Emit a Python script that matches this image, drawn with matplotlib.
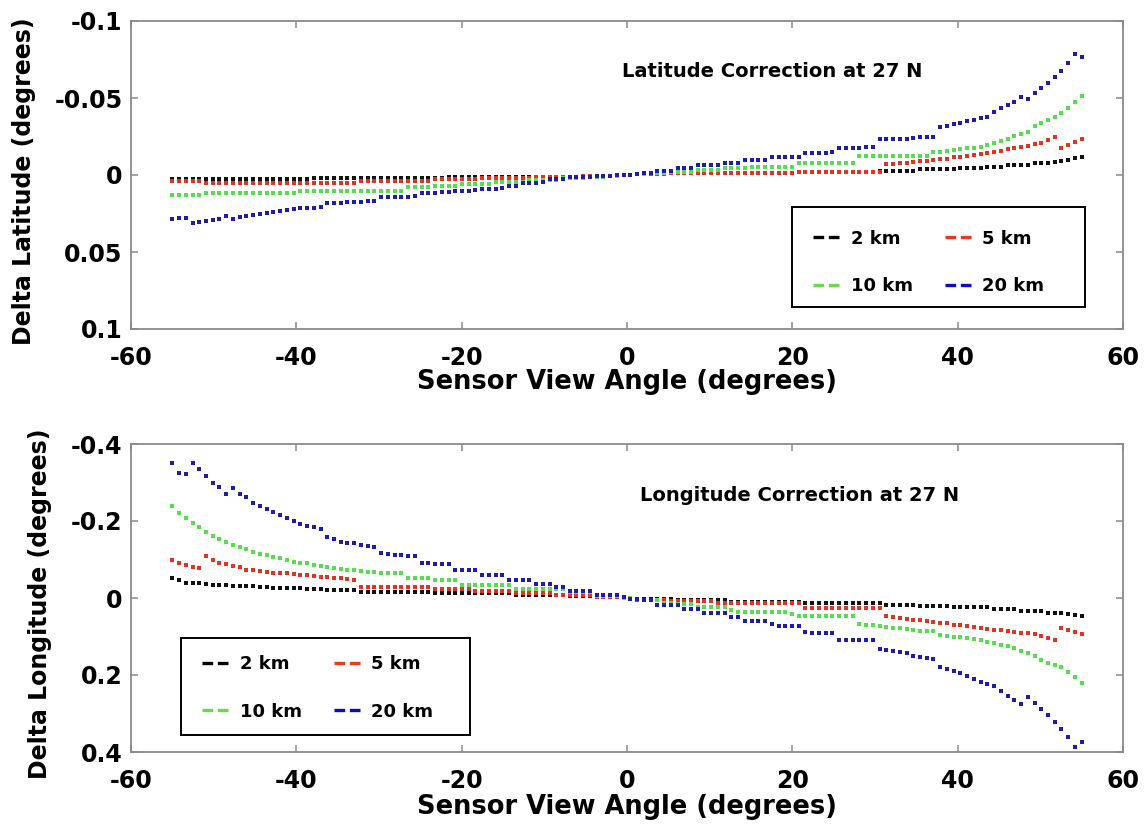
import numpy as np
import matplotlib
matplotlib.use("Agg")
import matplotlib.pyplot as plt
from matplotlib.lines import Line2D
from matplotlib.patches import Rectangle

# Sensor view angles of the sampled scan positions (degrees)
scan_angle = np.linspace(-55, 55, 136)

# Latitude correction (millidegrees) for each terrain height
lat_2km = [
    2.4, 2.4, 2.4, 2.4, 2.4, 2.4, 2.4, 2.4, 2.4, 2.4,
    2.4, 2.4, 2.4, 2.4, 2.4, 2.4, 2.4, 2.4, 2.4, 2.4,
    2.4, 2.0, 2.0, 2.0, 2.0, 2.0, 2.0, 2.0, 2.0, 2.0,
    2.0, 2.0, 2.0, 2.0, 2.0, 2.0, 2.0, 2.0, 2.0, 2.0,
    2.0, 1.5, 1.5, 1.5, 1.5, 1.5, 1.5, 1.5, 1.5, 1.5,
    1.5, 1.5, 1.5, 1.5, 1.5, 1.5, 1.0, 1.0, 1.0, 1.0,
    1.0, 1.0, 1.0, 1.0, 0.5, 0.5, 0.5, 0.1, -0.1, -0.5,
    -0.5, -0.5, -0.5, -1.0, -1.0, -1.0, -1.0, -1.0, -1.0, -1.0,
    -1.0, -1.5, -1.5, -1.5, -1.5, -1.5, -1.5, -1.5, -1.5, -1.5,
    -1.5, -1.5, -1.5, -2.0, -2.0, -2.0, -2.0, -2.0, -2.0, -2.0,
    -2.0, -2.0, -2.0, -2.0, -2.0, -2.8, -2.8, -2.8, -2.8, -2.8,
    -2.8, -3.6, -3.6, -3.6, -3.6, -3.6, -3.6, -4.5, -4.5, -4.5,
    -4.5, -5.4, -5.4, -5.4, -6.6, -6.6, -6.6, -6.6, -7.6, -7.6,
    -7.6, -8.6, -9.2, -9.9, -10.8, -11.9,
]
lat_5km = [
    3.7, 3.7, 3.7, 3.7, 3.7, 5.4, 5.4, 5.4, 5.4, 5.4,
    5.4, 5.4, 5.4, 5.4, 5.4, 5.4, 5.4, 5.4, 5.4, 5.4,
    5.4, 5.4, 5.4, 5.4, 5.4, 5.4, 5.4, 5.4, 3.7, 3.7,
    3.7, 3.7, 3.7, 3.7, 3.7, 3.7, 3.7, 3.7, 3.7, 2.8,
    2.8, 2.8, 2.8, 2.8, 2.8, 2.8, 2.0, 2.0, 2.0, 2.0,
    2.0, 2.0, 2.0, 2.0, 1.2, 1.2, 1.2, 1.2, 1.2, 1.2,
    1.2, 0.6, 0.6, 0.6, 0.6, 0.6, 0.1, 0.1, -0.1, -0.5,
    -0.5, -0.5, -0.5, -0.5, -1.0, -1.0, -1.0, -1.0, -1.0, -1.0,
    -1.0, -1.5, -1.5, -1.5, -1.5, -1.5, -1.5, -1.5, -1.5, -1.5,
    -1.5, -1.5, -1.5, -2.0, -2.0, -2.0, -2.0, -2.0, -2.0, -2.0,
    -2.0, -2.0, -2.0, -2.0, -2.0, -2.0, -7.1, -7.4, -7.8, -8.1,
    -8.5, -8.8, -9.2, -9.6, -10.1, -10.6, -11.4, -11.9, -12.5, -13.1,
    -13.8, -14.5, -15.2, -15.9, -16.6, -17.4, -18.2, -19.0, -20.0, -21.0,
    -22.5, -24.9, -17.7, -19.5, -21.6, -23.2,
]
lat_10km = [
    13.0, 13.0, 13.0, 13.0, 13.0, 11.9, 11.9, 11.9, 11.9, 11.9,
    11.9, 11.9, 11.9, 11.9, 11.9, 11.9, 11.9, 11.9, 11.9, 10.2,
    10.2, 10.2, 10.2, 10.2, 10.2, 10.2, 10.2, 10.2, 10.2, 10.2,
    10.2, 10.2, 10.2, 10.2, 10.2, 7.6, 7.6, 7.6, 7.6, 7.0,
    7.0, 7.0, 7.0, 5.8, 5.8, 5.8, 5.8, 5.8, 4.5, 4.5,
    4.5, 4.5, 4.5, 3.2, 3.2, 3.2, 3.2, 3.2, 2.2, 2.2,
    2.2, 2.2, 1.2, 1.2, 1.2, 0.5, 0.5, 0.1, -0.1, -0.5,
    -0.5, -1.2, -1.2, -1.2, -2.2, -2.2, -2.2, -2.2, -3.2, -3.2,
    -3.2, -3.2, -4.3, -4.3, -4.3, -4.3, -5.4, -5.4, -5.4, -5.4,
    -5.4, -5.4, -5.4, -8.0, -8.0, -8.0, -8.0, -8.0, -8.0, -8.0,
    -8.0, -8.0, -12.3, -12.3, -12.3, -12.3, -12.3, -12.3, -12.3, -12.3,
    -12.3, -12.3, -12.3, -14.9, -15.2, -15.7, -16.2, -16.7, -17.3, -17.8,
    -18.4, -19.5, -20.6, -22.0, -23.6, -25.1, -26.6, -28.1, -31.8, -34.0,
    -35.7, -37.9, -40.1, -43.3, -47.6, -51.3,
]
lat_20km = [
    28.8, 27.7, 27.7, 31.4, 30.3, 29.9, 29.2, 28.8, 26.6, 28.4,
    27.5, 26.6, 26.0, 25.3, 24.5, 23.8, 23.4, 22.7, 22.3, 21.6,
    21.2, 21.2, 20.6, 18.4, 18.4, 18.0, 17.5, 17.3, 17.3, 16.9,
    16.9, 14.5, 14.5, 14.1, 14.1, 14.1, 13.6, 11.9, 11.5, 11.5,
    11.1, 11.1, 10.7, 10.3, 10.3, 9.9, 9.3, 9.3, 9.3, 8.5,
    7.1, 7.1, 5.0, 5.0, 5.0, 4.6, 2.8, 2.8, 2.8, 1.6,
    1.1, 1.1, 1.1, 0.6, 0.6, 0.4, 0.2, 0.0, -0.2, -0.6,
    -1.1, -1.1, -2.8, -2.8, -2.8, -4.3, -4.3, -4.3, -6.5, -6.5,
    -6.5, -6.5, -8.0, -8.0, -8.0, -9.7, -9.7, -9.7, -9.7, -11.9,
    -11.9, -11.9, -11.9, -11.9, -14.5, -14.5, -14.5, -14.5, -14.9, -17.7,
    -17.7, -17.7, -17.7, -18.1, -18.1, -23.2, -23.2, -23.2, -23.6, -23.6,
    -24.1, -24.5, -24.9, -24.9, -30.9, -31.9, -32.9, -33.9, -35.0, -36.0,
    -37.0, -37.9, -41.1, -43.3, -45.5, -47.6, -50.8, -49.4, -53.5, -56.3,
    -59.5, -63.4, -67.7, -72.5, -78.6, -76.8,
]

# Longitude correction (millidegrees) for each terrain height
lon_2km = [
    -51, -47, -40, -40, -38, -36, -35, -34, -33, -32,
    -31, -31, -30, -29, -28, -27, -26, -26, -25, -25,
    -24, -23, -23, -22, -22, -21, -21, -20, -15, -15,
    -15, -15, -15, -15, -15, -15, -15, -15, -15, -14,
    -14, -14, -14, -14, -14, -14, -14, -14, -14, -14,
    -14, -8, -8, -8, -8, -8, -8, -8, -8, -4,
    -4, -4, -4, -4, -4, -4, -4, -1, 1, 3,
    3, 3, 3, 3, 3, 6, 6, 6, 6, 6,
    6, 6, 6, 10, 10, 10, 10, 10, 10, 10,
    10, 10, 10, 10, 14, 14, 14, 14, 14, 14,
    14, 14, 14, 14, 14, 14, 18, 18, 18, 18,
    18, 20, 20, 20, 20, 20, 24, 24, 24, 24,
    24, 24, 29, 29, 29, 29, 33, 33, 33, 33,
    38, 38, 38, 41, 44, 48,
]
lon_5km = [
    -100, -92, -86, -81, -77, -109, -100, -92, -88, -83,
    -80, -74, -73, -71, -68, -66, -64, -64, -62, -60,
    -60, -57, -55, -54, -51, -51, -49, -47, -29, -29,
    -29, -29, -29, -29, -29, -29, -29, -29, -29, -24,
    -24, -24, -24, -24, -24, -18, -18, -18, -18, -18,
    -18, -12, -12, -12, -12, -12, -12, -7, -7, -7,
    -7, -7, -7, -3, -3, -3, -3, -1, 1, 4,
    4, 4, 4, 4, 8, 8, 8, 8, 8, 8,
    8, 12, 12, 12, 12, 12, 12, 12, 12, 12,
    12, 12, 12, 12, 27, 27, 27, 27, 27, 27,
    27, 27, 27, 27, 27, 27, 48, 50, 52, 54,
    56, 58, 60, 62, 64, 66, 69, 71, 74, 76,
    78, 80, 82, 84, 86, 88, 90, 92, 94, 99,
    104, 109, 79, 82, 88, 94,
]
lon_10km = [
    -239, -222, -207, -194, -184, -172, -161, -152, -146, -138,
    -132, -126, -120, -114, -112, -107, -103, -99, -94, -92,
    -90, -86, -83, -81, -77, -75, -73, -73, -71, -68,
    -68, -66, -66, -64, -64, -51, -51, -51, -51, -47,
    -47, -47, -47, -34, -34, -34, -34, -34, -34, -34,
    -34, -23, -23, -23, -23, -23, -23, -23, -23, -15,
    -15, -15, -15, -6, -6, -6, -6, -1, 1, 3,
    6, 6, 6, 12, 12, 15, 15, 15, 23, 23,
    23, 23, 23, 30, 36, 36, 36, 36, 36, 36,
    36, 36, 42, 48, 48, 48, 48, 48, 48, 48,
    48, 48, 68, 69, 71, 73, 75, 77, 79, 81,
    83, 85, 86, 87, 96, 98, 100, 102, 104, 106,
    109, 113, 118, 122, 125, 131, 137, 144, 151, 160,
    170, 174, 178, 191, 204, 222,
]
lon_20km = [
    -350, -325, -322, -351, -334, -317, -300, -288, -270, -285,
    -270, -262, -248, -239, -230, -224, -216, -207, -201, -192,
    -187, -184, -178, -158, -152, -146, -144, -142, -138, -135,
    -133, -118, -114, -112, -112, -109, -109, -92, -92, -88,
    -88, -88, -73, -73, -73, -73, -60, -60, -60, -60,
    -48, -48, -48, -48, -36, -36, -36, -28, -28, -19,
    -19, -19, -19, -9, -9, -9, -9, -2, 2, 2,
    5, 5, 18, 18, 18, 18, 29, 29, 29, 40,
    40, 40, 40, 50, 50, 61, 61, 61, 61, 68,
    74, 74, 74, 74, 88, 90, 90, 90, 90, 109,
    109, 109, 109, 109, 109, 133, 135, 137, 140, 142,
    150, 152, 155, 159, 180, 184, 190, 196, 203, 210,
    217, 223, 229, 241, 255, 265, 275, 258, 272, 289,
    304, 321, 341, 362, 386, 373,
]

height_labels = ["2 km", "5 km", "10 km", "20 km"]
dot_colors = ["#111111", "#e3321f", "#55de4f", "#1c1cae"]
key_colors = ["#000000", "#ee3a1c", "#66dd44", "#0a0ac8"]

x_ticks = [-60, -40, -20, 0, 20, 40, 60]
lat_ticks = [-0.1, -0.05, 0, 0.05, 0.1]
lat_tick_labels = ["-0.1", "-0.05", "0", "0.05", "0.1"]
lon_ticks = [-0.4, -0.2, 0, 0.2, 0.4]
lon_tick_labels = ["-0.4", "-0.2", "0", "0.2", "0.4"]

FONT = "DejaVu Sans"
plt.rcParams["font.family"] = FONT
plt.rcParams["font.weight"] = "bold"

W, H = 1146, 827
fig = plt.figure(figsize=(W / 100, H / 100), dpi=100)
fig.patch.set_facecolor("white")

ax_lat = fig.add_axes([131 / W, 1 - 329 / H, 992 / W, 308 / H])
ax_lon = fig.add_axes([131 / W, 1 - 752 / H, 992 / W, 308 / H])

lat_series = [lat_2km, lat_5km, lat_10km, lat_20km]
lon_series = [lon_2km, lon_5km, lon_10km, lon_20km]

for ax, series in ((ax_lat, lat_series), (ax_lon, lon_series)):
    for vals, col in zip(series, dot_colors):
        ax.plot(scan_angle, np.asarray(vals) / 1000.0, linestyle="none",
                marker="s", markersize=2.6, markeredgewidth=0,
                color=col)


def style_axes(ax, yticks, ylabels, ylim, ylabel, ylabel_x, xlabel_y):
    ax.set_xlim(-60, 60)
    ax.set_ylim(*ylim)
    ax.set_xticks(x_ticks)
    ax.set_xticklabels([str(t) for t in x_ticks])
    ax.set_yticks(yticks)
    ax.set_yticklabels(ylabels)
    for sp in ax.spines.values():
        sp.set_color("#8a8a8a")
        sp.set_linewidth(1.3)
    ax.tick_params(axis="both", which="both", direction="in", length=5,
                   width=1.1, color="#8a8a8a", top=True, right=True,
                   labelsize=17, labelcolor="black")
    ax.tick_params(axis="x", pad=12)
    ax.tick_params(axis="y", pad=6)
    for lbl in ax.get_xticklabels() + ax.get_yticklabels():
        lbl.set_fontweight("bold")
    ax.set_xlabel("Sensor View Angle (degrees)", fontsize=18.5,
                  fontweight="bold")
    ax.xaxis.set_label_coords(0.5, xlabel_y)
    ax.xaxis.label.set_va("center")
    ax.set_ylabel(ylabel, fontsize=17, fontweight="bold")
    ax.yaxis.set_label_coords(ylabel_x, 0.48)
    ax.yaxis.label.set_va("center")


style_axes(ax_lat, lat_ticks, lat_tick_labels, (0.1, -0.1),
           "Delta Latitude (degrees)", -0.108, -0.172)
style_axes(ax_lon, lon_ticks, lon_tick_labels, (0.4, -0.4),
           "Delta Longitude (degrees)", -0.092, -0.180)

ax_lat.text(-0.6, -0.0669, "Latitude Correction at 27 N", fontsize=14,
            fontweight="bold", va="center", ha="left")
ax_lon.text(1.6, -0.265, "Longitude Correction at 27 N", fontsize=14,
            fontweight="bold", va="center", ha="left")


def add_key(ax, box, anchor):
    # box: (x0, y0, width, height) of the key frame in axes fraction
    ax.add_patch(Rectangle(box[:2], box[2], box[3], transform=ax.transAxes,
                           facecolor="white", edgecolor="black",
                           linewidth=1.4, zorder=4))
    handles = [Line2D([], [], color=c, linestyle=(0, (3.2, 1.4)), linewidth=2.4)
               for c in key_colors]
    order = [0, 2, 1, 3]
    leg = ax.legend([handles[i] for i in order],
                    [height_labels[i] for i in order],
                    ncol=2, loc="upper left", bbox_to_anchor=anchor,
                    borderaxespad=0, frameon=False, borderpad=0,
                    handlelength=1.5, handletextpad=0.6,
                    columnspacing=1.75, labelspacing=1.65,
                    prop={"family": FONT, "weight": "bold", "size": 13})
    leg.set_zorder(5)
    return leg


add_key(ax_lat, ((792 - 131) / 992, (329 - 307) / 308, 293 / 992, 100 / 308),
        ((813 - 131) / 992, (329 - 229.5) / 308))
add_key(ax_lon, ((181 - 131) / 992, (752 - 735) / 308, 289 / 992, 97 / 308),
        ((202 - 131) / 992, (752 - 655) / 308))

fig.savefig("out.png", dpi=100, facecolor="white")
